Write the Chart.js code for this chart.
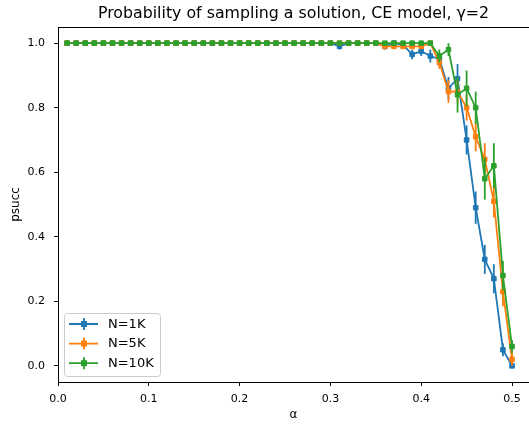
<!DOCTYPE html>
<html>
<head>
<meta charset="utf-8">
<script src="https://cdn.jsdelivr.net/npm/chart.js@4.4.0/dist/chart.umd.min.js"></script>
<style>
  html, body { margin: 0; padding: 0; background: #fff; overflow: hidden; }
</style>
</head>
<body>
<canvas id="psuccChart" width="529" height="424"></canvas>
<script>
// alpha values (x axis)
const alphas = [
  0.01, 0.02, 0.03, 0.04, 0.05, 0.06, 0.07, 0.08, 0.09, 0.10,
  0.11, 0.12, 0.13, 0.14, 0.15, 0.16, 0.17, 0.18, 0.19, 0.20,
  0.21, 0.22, 0.23, 0.24, 0.25, 0.26, 0.27, 0.28, 0.29, 0.30,
  0.31, 0.32, 0.33, 0.34, 0.35, 0.36, 0.37, 0.38, 0.39, 0.40,
  0.41, 0.42, 0.43, 0.44, 0.45, 0.46, 0.47, 0.48, 0.49, 0.50
];

// N=1K
const psucc1K = [
  1, 1, 1, 1, 1, 1, 1, 1, 1, 1,
  1, 1, 1, 1, 1, 1, 1, 1, 1, 1,
  1, 1, 1, 1, 1, 1, 1, 1, 1, 1,
  0.99, 1, 1, 1, 1, 0.99, 1, 0.995, 0.965, 0.975,
  0.96, 0.95, 0.86, 0.89, 0.70, 0.49, 0.33, 0.27, 0.05, 0.00
];
const err1K = [
  0, 0, 0, 0, 0, 0, 0, 0, 0, 0,
  0, 0, 0, 0, 0, 0, 0, 0, 0, 0,
  0, 0, 0, 0, 0, 0, 0, 0, 0, 0,
  0.01, 0, 0, 0, 0, 0.01, 0, 0.005, 0.015, 0.015,
  0.02, 0.02, 0.035, 0.045, 0.045, 0.05, 0.045, 0.045, 0.02, 0.005
];

// N=5K
const psucc5K = [
  1, 1, 1, 1, 1, 1, 1, 1, 1, 1,
  1, 1, 1, 1, 1, 1, 1, 1, 1, 1,
  1, 1, 1, 1, 1, 1, 1, 1, 1, 1,
  1, 1, 1, 1, 1, 0.99, 0.99, 0.99, 0.99, 0.99,
  1, 0.94, 0.85, 0.85, 0.80, 0.71, 0.64, 0.51, 0.23, 0.02
];
const err5K = [
  0, 0, 0, 0, 0, 0, 0, 0, 0, 0,
  0, 0, 0, 0, 0, 0, 0, 0, 0, 0,
  0, 0, 0, 0, 0, 0, 0, 0, 0, 0,
  0, 0, 0, 0, 0, 0.005, 0.005, 0.005, 0.005, 0.005,
  0, 0.02, 0.035, 0.035, 0.04, 0.045, 0.05, 0.05, 0.045, 0.02
];

// N=10K
const psucc10K = [
  1, 1, 1, 1, 1, 1, 1, 1, 1, 1,
  1, 1, 1, 1, 1, 1, 1, 1, 1, 1,
  1, 1, 1, 1, 1, 1, 1, 1, 1, 1,
  1, 1, 1, 1, 1, 1, 1, 1, 1, 1,
  1, 0.96, 0.98, 0.84, 0.86, 0.80, 0.58, 0.62, 0.28, 0.06
];
const err10K = [
  0, 0, 0, 0, 0, 0, 0, 0, 0, 0,
  0, 0, 0, 0, 0, 0, 0, 0, 0, 0,
  0, 0, 0, 0, 0, 0, 0, 0, 0, 0,
  0, 0, 0, 0, 0, 0, 0, 0, 0, 0,
  0, 0.02, 0.02, 0.055, 0.055, 0.05, 0.065, 0.07, 0.045, 0.02
];

const seriesLabels = ["N=1K", "N=5K", "N=10K"];
const seriesColors = ["#1f77b4", "#ff7f0e", "#2ca02c"];
const chartTitle = "Probability of sampling a solution, CE model, γ=2";

Chart.defaults.font.family = "'DejaVu Sans', sans-serif";
Chart.defaults.color = "#000";

function makeDataset(i, values, errors) {
  return {
    label: seriesLabels[i],
    data: alphas.map((a, k) => ({ x: a, y: values[k] })),
    errors: errors,
    borderColor: seriesColors[i],
    backgroundColor: seriesColors[i],
    borderWidth: 1.8,
    pointStyle: "rect",
    pointRadius: 3.2,
    pointBorderWidth: 1,
    tension: 0,
    order: 3 - i,
  };
}

// vertical error bars, drawn under each series' line
const errorBarPlugin = {
  id: "errorBars",
  beforeDatasetDraw(chart, args) {
    const ds = chart.data.datasets[args.index];
    if (!ds.errors) return;
    const { ctx, scales } = chart;
    ctx.save();
    ctx.strokeStyle = ds.borderColor;
    ctx.lineWidth = 1.8;
    ds.data.forEach((p, k) => {
      const e = ds.errors[k];
      if (!e) return;
      const x = scales.x.getPixelForValue(p.x);
      ctx.beginPath();
      ctx.moveTo(x, scales.y.getPixelForValue(p.y + e));
      ctx.lineTo(x, scales.y.getPixelForValue(p.y - e));
      ctx.stroke();
    });
    ctx.restore();
  },
};

// title over the plot area, top spine, matplotlib style legend
const framePlugin = {
  id: "frame",
  afterDraw(chart) {
    const { ctx, chartArea } = chart;
    ctx.save();
    ctx.fillStyle = "#000";
    ctx.font = "15.8px 'DejaVu Sans'";
    ctx.textAlign = "center";
    ctx.textBaseline = "middle";
    ctx.fillText(chartTitle, (chartArea.left + chartArea.right) / 2, 14);

    ctx.strokeStyle = "#000";
    ctx.lineWidth = 1;
    ctx.beginPath();
    ctx.moveTo(chartArea.left, chartArea.top + 0.5);
    ctx.lineTo(chartArea.right, chartArea.top + 0.5);
    ctx.stroke();

    // legend box
    const bx = chartArea.left + 6, by = chartArea.bottom - 69;
    const bw = 96, bh = 63, r = 3;
    ctx.fillStyle = "rgba(255,255,255,0.8)";
    ctx.strokeStyle = "#cccccc";
    ctx.beginPath();
    ctx.roundRect(bx + 0.5, by + 0.5, bw, bh, r);
    ctx.fill();
    ctx.stroke();

    chart.data.datasets.forEach((ds, i) => {
      const y = by + 11 + i * 19.6;
      ctx.strokeStyle = ds.borderColor;
      ctx.fillStyle = ds.borderColor;
      ctx.lineWidth = 1.8;
      ctx.beginPath();
      ctx.moveTo(bx + 5, y);
      ctx.lineTo(bx + 34, y);
      ctx.moveTo(bx + 20, y - 6);
      ctx.lineTo(bx + 20, y + 6);
      ctx.stroke();
      ctx.fillRect(bx + 17, y - 3, 6, 6);
      ctx.fillStyle = "#000";
      ctx.font = "13px 'DejaVu Sans'";
      ctx.textBaseline = "middle";
      ctx.textAlign = "left";
      ctx.fillText(ds.label, bx + 44, y + 0.5);
    });
    ctx.restore();
  },
};

new Chart(document.getElementById("psuccChart"), {
  type: "line",
  data: {
    datasets: [
      makeDataset(0, psucc1K, err1K),
      makeDataset(1, psucc5K, err5K),
      makeDataset(2, psucc10K, err10K),
    ],
  },
  options: {
    responsive: false,
    animation: false,
    layout: { autoPadding: false, padding: { top: 27, right: 0 } },
    plugins: {
      legend: { display: false },
      tooltip: { enabled: false },
      title: { display: false },
    },
    scales: {
      x: {
        type: "linear",
        min: 0,
        max: 0.5187,
        ticks: {
          stepSize: 0.1,
          includeBounds: false,
          maxRotation: 0,
          padding: 7,
          font: { size: 11 },
          callback: (v) => v.toFixed(1),
        },
        grid: { drawOnChartArea: false, drawTicks: true, tickLength: 4, color: "#000" },
        border: { color: "#000", width: 1 },
        title: { display: true, text: "α", font: { size: 12 }, padding: { top: 0, bottom: 2 } },
        afterFit(scale) {
          scale.height = 42;
          scale.paddingLeft = 0;
          scale.paddingRight = 0;
        },
      },
      y: {
        min: -0.05,
        max: 1.05,
        ticks: {
          stepSize: 0.2,
          includeBounds: false,
          padding: 9,
          font: { size: 11 },
          callback: (v) => v.toFixed(1),
        },
        grid: { drawOnChartArea: false, drawTicks: true, tickLength: 4, color: "#000" },
        border: { color: "#000", width: 1 },
        title: { display: true, text: "psucc", font: { size: 12 }, padding: { top: 9, bottom: 0 } },
        afterFit(scale) { scale.width = 58; },
      },
    },
  },
  plugins: [errorBarPlugin, framePlugin],
});
</script>
</body>
</html>
